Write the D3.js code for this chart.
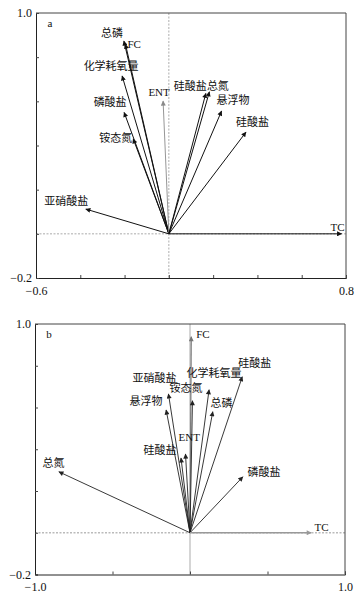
<!DOCTYPE html>
<html><head><meta charset="utf-8">
<script src="https://cdn.jsdelivr.net/npm/d3@7"></script>
<style>
html,body{margin:0;padding:0;background:#fff;}
svg{display:block;font-family:"Liberation Serif","Noto Sans CJK SC",serif;}
</style></head>
<body><svg id="c" width="358" height="599"></svg>
<script>
// ---- Panel a data ----
const varsA = ["总磷","FC","化学耗氧量","磷酸盐","铵态氮","ENT","硅酸盐","总氮","悬浮物","硅酸盐","亚硝酸盐","TC"];
const xA = [-0.203,-0.196,-0.211,-0.202,-0.161,-0.026,0.167,0.183,0.238,0.348,-0.375,0.78];
const yA = [0.873,0.859,0.715,0.550,0.430,0.601,0.636,0.643,0.556,0.460,0.112,0.0];
const xTicksA = [-0.6,-0.4,-0.2,0,0.2,0.4,0.6,0.8];
const yTicks = [-0.2,0,0.2,0.4,0.6,0.8,1.0];
// ---- Panel b data ----
const varsB = ["FC","硅酸盐","化学耗氧量","亚硝酸盐","铵态氮","悬浮物","总磷","ENT","硅酸盐","总氮","磷酸盐","TC"];
const xB = [0.008,0.337,0.123,-0.139,0.016,-0.154,0.147,-0.029,-0.058,-0.846,0.341,0.782];
const yB = [0.939,0.747,0.685,0.665,0.632,0.588,0.580,0.377,0.358,0.292,0.268,0.0];
const xTicksB = [-1.0,-0.5,0,0.5,1.0];

// ---- layout (label offsets from arrow tip, px) ----
const layA = [[-1,-7.7,"end"],[2,0,"start"],[-11,-9.7,"middle"],[-14,-10,"middle"],[-1,-1,"end"],[-4,-8.7,"middle"],
  [1,-7,"end"],[-2.5,-5.5,"start"],[-5,-10.7,"start"],[-10,-9.7,"start"],[-19.5,-7.6,"middle"],[3,-7,"end"]];
const layB = [[5,-2.7,"start"],[-4,-14,"start"],[-22.5,-17,"start"],[-36,-16,"start"],[-23,-13,"start"],[-3.7,-9,"end"],
  [-2.3,-9,"start"],[-7,-17.3,"start"],[-4.5,-8,"end"],[-16.3,-9,"start"],[4.7,-5,"start"],[3.3,-5.7,"start"]];
const styleA = v => v==="ENT" ? {c:"#8a8a8a",w:0.9} : {c:"#111",w:1};
const styleB = v => v==="FC" ? {c:"#777",w:1.2} : v==="TC" ? {c:"#999",w:1.4} : {c:"#222",w:0.9};

const svg = d3.select("#c");
const defs = svg.append("defs");
function marker(id,color){
  defs.append("marker").attr("id",id).attr("viewBox","0 0 10 10").attr("refX",9).attr("refY",5)
    .attr("markerWidth",6.5).attr("markerHeight",5).attr("markerUnits","userSpaceOnUse").attr("orient","auto")
    .append("path").attr("d","M0,0L10,5L0,10Z").attr("fill",color);
}

function panel(cfg){
  const {x0,x1,y0,y1,xdom,xt,vars,xs,ys,lay,sty,tag,id} = cfg;
  const x = d3.scaleLinear().domain(xdom).range([x0,x1]);
  const y = d3.scaleLinear().domain([-0.2,1.0]).range([y1,y0]);
  const g = svg.append("g");
  // zero lines
  g.append("line").attr("x1",x(0)).attr("x2",x(0)).attr("y1",y0).attr("y2",y1)
    .attr("stroke","#888").attr("stroke-width",0.7).attr("stroke-dasharray",id==="a"?"2,1.5":null);
  g.append("line").attr("x1",x0).attr("x2",x1).attr("y1",y(0)).attr("y2",y(0))
    .attr("stroke",id==="a"?"#888":"#bbb").attr("stroke-width",id==="a"?0.7:1.5).attr("stroke-dasharray","2,1.5");
  // axes
  const ends = [xt[0], xt[xt.length-1]];
  const ax = g.append("g").attr("transform",`translate(0,${y1})`)
    .call(d3.axisBottom(x).tickValues(xt).tickSize(-3).tickPadding(8)
      .tickFormat(d => ends.includes(d) ? d3.format(".1f")(d).replace("-","−") : ""));
  const ay = g.append("g").attr("transform",`translate(${x0},0)`)
    .call(d3.axisLeft(y).tickValues(yTicks).tickSize(-3).tickPadding(4)
      .tickFormat(d => (d===-0.2||d===1.0) ? d3.format(".1f")(d).replace("-","−") : ""));
  [ax,ay].forEach(a=>{a.select(".domain").attr("stroke","#222");
    a.selectAll(".tick line").attr("stroke","#444");
    a.selectAll("text").attr("font-size",12).attr("fill","#111").attr("font-family","Liberation Serif");});
  // box top/right
  g.append("line").attr("x1",x0).attr("x2",x1).attr("y1",y0).attr("y2",y0).attr("stroke","#444");
  g.append("line").attr("x1",x1).attr("x2",x1).attr("y1",y0).attr("y2",y1).attr("stroke","#444");
  g.append("text").attr("x",x0+14).attr("y",y0+10).attr("dy","0.35em").attr("text-anchor","middle")
    .attr("font-size",11).attr("fill","#111").text(tag);
  // arrows
  vars.forEach((v,i)=>{
    const s = sty(v); const mid = `m_${id}_${i}`;
    marker(mid,s.c);
    g.append("line").attr("x1",x(0)).attr("y1",y(0)).attr("x2",x(xs[i])).attr("y2",y(ys[i]))
      .attr("stroke",s.c).attr("stroke-width",s.w).attr("marker-end",`url(#${mid})`);
    const L = lay[i];
    g.append("text").attr("x",x(xs[i])+L[0]).attr("y",y(ys[i])+L[1]).attr("dy","0.35em")
      .attr("text-anchor",L[2]).attr("font-size",11).attr("fill","#111").text(v);
  });
}

panel({id:"a",x0:36,x1:346,y0:13,y1:278,xdom:[-0.6,0.8],xt:xTicksA,vars:varsA,xs:xA,ys:yA,lay:layA,sty:styleA,tag:"a"});
panel({id:"b",x0:35,x1:345,y0:324,y1:574.5,xdom:[-1.0,1.0],xt:xTicksB,vars:varsB,xs:xB,ys:yB,lay:layB,sty:styleB,tag:"b"});
</script></body></html>
